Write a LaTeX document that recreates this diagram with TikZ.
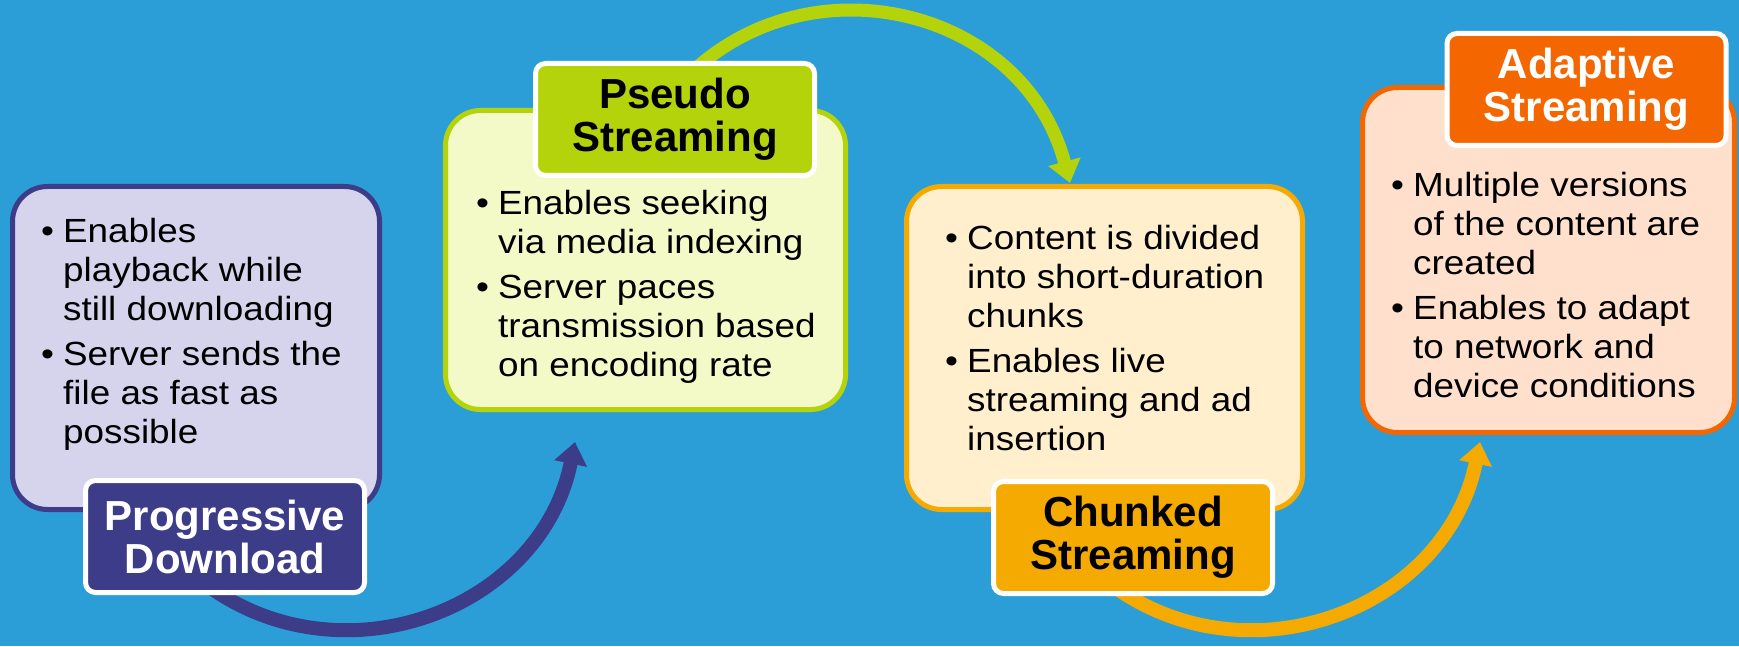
\documentclass[tikz,border=0pt]{standalone}
\usepackage{fontspec}
\setmainfont{Liberation Sans}
\newfontfamily\wideface{Liberation Sans}[FakeStretch=1.1]
\usetikzlibrary{arrows.meta}

\definecolor{sky}{HTML}{2B9ED8}
\definecolor{pdblue}{HTML}{3C3C88}
\definecolor{pdfill}{HTML}{D5D4EC}
\definecolor{pslime}{HTML}{B4D30A}
\definecolor{psfill}{HTML}{F3FAC8}
\definecolor{csgold}{HTML}{F4AA00}
\definecolor{csfill}{HTML}{FFEFCC}
\definecolor{asorange}{HTML}{F46600}
\definecolor{asfill}{HTML}{FFE0CC}

\begin{document}
\begin{tikzpicture}[x=1pt,y=1pt,
  body/.style={rounded corners=35pt, line width=5pt},
  tag/.style={rounded corners=10pt, draw=white, line width=5pt,
    minimum width=279pt, minimum height=112pt, align=center,
    font=\bfseries\fontsize{42}{43}\selectfont},
  points/.style={anchor=base west, inner sep=0pt,
    font=\wideface\fontsize{33.5}{39}\selectfont},
  flow/.style={line width=14pt, -{Triangle[width=32pt,length=22pt]}},
  ]
  \useasboundingbox (0,0) rectangle (1739,646);
  \fill[sky] (0,0) rectangle (1739,646);

  % curved arrows, partly hidden under the tags
  \coordinate (pd out) at (194,71);
  \coordinate (ps in) at (575,204);
  \coordinate (ps out) at (671,552);
  \coordinate (cs in) at (1070,463);
  \coordinate (cs out) at (1099,71);
  \coordinate (as in) at (1480,204);
  \draw[flow, pdblue] (pd out) to[out=-40, in=-101.5, looseness=1.12] (ps in);
  \draw[flow, pslime, line width=13pt] (ps out) to[out=50, in=104.8, looseness=1.17] (cs in);
  \draw[flow, csgold] (cs out) to[out=-40, in=-101.5, looseness=1.12] (as in);

  % boxes
  \node[body, draw=pdblue, fill=pdfill, minimum width=367pt, minimum height=323pt] (pd body) at (196,298) {};
  \node[body, draw=pslime, fill=psfill, minimum width=400pt, minimum height=299pt] (ps body) at (645.5,386) {};
  \node[body, draw=csgold, fill=csfill, minimum width=396pt, minimum height=323pt] (cs body) at (1104.5,298) {};
  \node[body, draw=asorange, fill=asfill, minimum width=372pt, minimum height=345pt] (as body) at (1548.5,386) {};

  \node[tag, fill=pdblue, text=white] (pd tag) at (225,109.5) {Progressive\\Download};
  \node[tag, fill=pslime] (ps tag) at (675,526.5) {Pseudo\\Streaming};
  \node[tag, fill=csgold] (cs tag) at (1133,108.5) {Chunked\\Streaming};
  \node[tag, fill=asorange, text=white] (as tag) at (1586.5,556.5) {Adaptive\\Streaming};

  % bullet points
  \node[points] (pd text) at (41,403) {\begin{tabular}[t]{@{}p{22pt}@{}l@{}}
    \textbullet & Enables\\ & playback while\\ & still downloading\\[6pt]
    \textbullet & Server sends the\\ & file as fast as\\ & possible
  \end{tabular}};
  \node[points] (ps text) at (476,431) {\begin{tabular}[t]{@{}p{22pt}@{}l@{}}
    \textbullet & Enables seeking\\ & via media indexing\\[6pt]
    \textbullet & Server paces\\ & transmission based\\ & on encoding rate
  \end{tabular}};
  \node[points] (cs text) at (945,396) {\begin{tabular}[t]{@{}p{22pt}@{}l@{}}
    \textbullet & Content is divided\\ & into short-duration\\ & chunks\\[6pt]
    \textbullet & Enables live\\ & streaming and ad\\ & insertion
  \end{tabular}};
  \node[points] (as text) at (1391,449) {\begin{tabular}[t]{@{}p{22pt}@{}l@{}}
    \textbullet & Multiple versions\\ & of the content are\\ & created\\[6pt]
    \textbullet & Enables to adapt\\ & to network and\\ & device conditions
  \end{tabular}};
\end{tikzpicture}
\end{document}
